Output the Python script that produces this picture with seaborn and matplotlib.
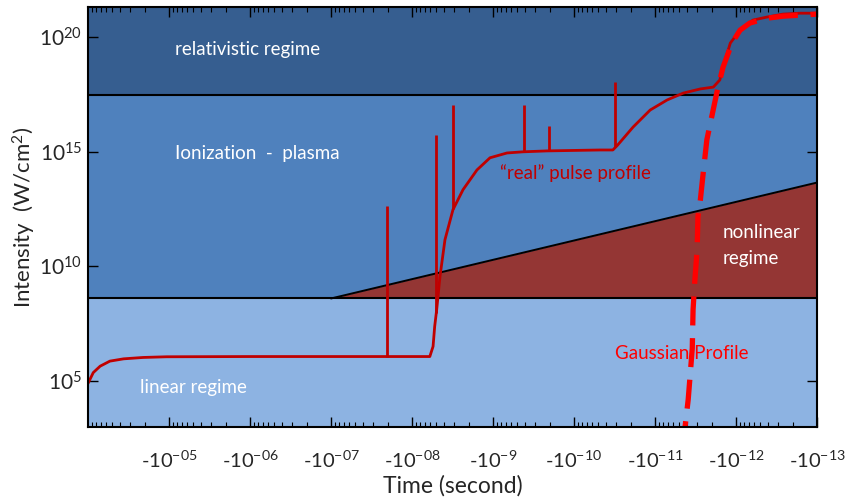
import numpy as np
import pandas as pd
import matplotlib
matplotlib.use("Agg")
import matplotlib.pyplot as plt
import seaborn as sns
from matplotlib.ticker import FixedLocator, FixedFormatter, NullFormatter, NullLocator

# ---------------- data ----------------
# time t = -10**(-exp) seconds ; intensity = 10**log  (W/cm^2)
pulse_time_exp = [4.00, 4.065, 4.15, 4.27, 4.44, 4.68, 4.97, 6.0, 7.0, 8.22,
                  8.26, 8.28, 8.305, 8.346, 8.407, 8.506, 8.63, 8.802, 8.963,
                  9.173, 9.37, 9.667, 10.32, 10.48, 10.54, 10.73, 10.94, 11.15,
                  11.35, 11.56, 11.72, 11.80, 11.84, 11.93, 12.05, 12.21,
                  12.38, 12.58, 12.79, 13.0]
pulse_log_intensity = [4.90, 5.37, 5.65, 5.87, 5.97, 6.03, 6.06, 6.07, 6.07, 6.07,
                       6.51, 7.38, 8.12, 9.57, 11.16, 12.47, 13.34, 14.20, 14.73,
                       14.94, 14.99, 15.03, 15.07, 15.07, 15.29, 16.07, 16.81, 17.25,
                       17.55, 17.73, 17.81, 18.12, 18.68, 19.73, 20.29, 20.73,
                       20.86, 20.99, 21.03, 21.03]

spike_time_exp = [7.69, 8.30, 8.51, 9.38, 9.69, 10.51]
spike_log_peak = [12.64, 15.72, 17.05, 17.05, 16.10, 18.03]

gauss_time_exp = [11.33, 11.37, 11.41, 11.46, 11.47, 11.49, 11.52, 11.53, 11.56,
                  11.59, 11.64, 11.70, 11.77, 11.84, 11.95, 12.05, 12.17, 12.38,
                  12.58, 13.0]
gauss_log_intensity = [2.0, 2.97, 4.20, 6.42, 8.11, 9.29, 10.72, 12.16, 12.90,
                       13.90, 15.51, 16.51, 17.68, 18.68, 19.73, 20.29, 20.60, 20.81,
                       20.90, 20.99]

relativistic_log = 17.48
ionization_log = 8.6
nonlinear_time_exp = [7.0, 13.0]
nonlinear_log_upper = [8.6, 13.65]

x_tick_exp = [5, 6, 7, 8, 9, 10, 11, 12, 13]
x_tick_labels = ["-10$^{-05}$", "-10$^{-06}$", "-10$^{-07}$", "-10$^{-08}$",
                 "-10$^{-9}$", "-10$^{-10}$", "-10$^{-11}$", "-10$^{-12}$",
                 "-10$^{-13}$"]
y_tick_log = [5, 10, 15, 20]
y_tick_labels = ["10$^{5}$", "10$^{10}$", "10$^{15}$", "10$^{20}$"]

region_labels = ["relativistic regime", "Ionization  -  plasma", "linear regime"]

# ---------------- style ----------------
sns.set_theme(style="ticks")
plt.rcParams["font.family"] = ["Lato", "DejaVu Sans"]
plt.rcParams["mathtext.fontset"] = "custom"
plt.rcParams["mathtext.rm"] = "Lato"
plt.rcParams["mathtext.it"] = "Lato:italic"
plt.rcParams["mathtext.bf"] = "Lato:bold"
plt.rcParams["mathtext.default"] = "regular"

c_rel = "#365E90"
c_ion = "#4F81BD"
c_lin = "#8DB3E2"
c_nl = "#943634"
c_real = "#C00000"
c_gauss = "#FF0000"

def to_time(e):
    return -10.0 ** (-np.asarray(e, dtype=float))

def to_int(l):
    return 10.0 ** np.asarray(l, dtype=float)

def fwd(t):
    t = np.asarray(t, dtype=float)
    return -np.log10(np.clip(-t, 1e-300, None))

def inv(u):
    return -10.0 ** (-np.asarray(u, dtype=float))

fig = plt.figure(figsize=(8.52, 4.99), dpi=100)
ax = fig.add_axes([88 / 852, 1 - 427 / 499, 729 / 852, 420 / 499])
ax.set_xscale("function", functions=(fwd, inv))
ax.set_yscale("log")
ax.set_xlim(to_time(4.0), to_time(13.0))
ax.set_ylim(1e3, 10 ** 21.3)

# regime bands
ax.axhspan(1e3, to_int(ionization_log), color=c_lin, lw=0, zorder=0)
ax.axhspan(to_int(ionization_log), to_int(relativistic_log), color=c_ion, lw=0, zorder=0)
ax.axhspan(to_int(relativistic_log), 10 ** 21.3, color=c_rel, lw=0, zorder=0)
nl_t = to_time(nonlinear_time_exp)
ax.fill_between(nl_t, to_int(ionization_log), to_int(nonlinear_log_upper),
                color=c_nl, lw=0, zorder=1)
ax.plot(nl_t, to_int(nonlinear_log_upper), color="black", lw=1.4, zorder=2)
ax.axhline(to_int(ionization_log), color="black", lw=1.5, zorder=2)
ax.axhline(to_int(relativistic_log), color="black", lw=1.5, zorder=2)

# real pulse
pulse_df = pd.DataFrame({"time": to_time(pulse_time_exp),
                         "intensity": to_int(pulse_log_intensity)})
sns.lineplot(data=pulse_df, x="time", y="intensity", ax=ax, color=c_real,
             lw=2.0, sort=False, estimator=None, zorder=4)
spike_base = np.interp(spike_time_exp, pulse_time_exp, pulse_log_intensity)
ax.vlines(to_time(spike_time_exp), to_int(spike_base), to_int(spike_log_peak),
          color=c_real, lw=2.0, zorder=4)

# gaussian profile
gauss_df = pd.DataFrame({"time": to_time(gauss_time_exp),
                         "intensity": to_int(gauss_log_intensity)})
sns.lineplot(data=gauss_df, x="time", y="intensity", ax=ax, color=c_gauss,
             lw=3.8, sort=False, estimator=None, zorder=5,
             linestyle=(0, (5.5, 2.4)))

# texts
fs = 13.5
tk = dict(color="white", fontsize=fs, transform=ax.transAxes)
ax.text(0.2195, 0.898, region_labels[0], ha="center", va="center", **tk)
ax.text(0.119, 0.652, region_labels[1], ha="left", va="center", **tk)
ax.text(0.071, 0.095, region_labels[2], ha="left", va="center", **tk)
ax.text(0.871, 0.462, "nonlinear", ha="left", va="center", **tk)
ax.text(0.871, 0.402, "regime", ha="left", va="center", **tk)
ax.text(0.668, 0.605, "\u201creal\u201d pulse profile", ha="center", va="center",
        color=c_real, fontsize=fs, transform=ax.transAxes)
ax.text(0.815, 0.174, "Gaussian Profile", ha="center", va="center",
        color=c_gauss, fontsize=fs, transform=ax.transAxes)

# ticks
ax.xaxis.set_major_locator(FixedLocator(to_time(x_tick_exp)))
ax.xaxis.set_major_formatter(FixedFormatter(x_tick_labels))
minor = [-k * 10.0 ** (-n) for n in range(5, 14) for k in range(2, 10)]
ax.xaxis.set_minor_locator(FixedLocator(minor))
ax.xaxis.set_minor_formatter(NullFormatter())
ax.yaxis.set_major_locator(FixedLocator(to_int(y_tick_log)))
ax.yaxis.set_major_formatter(FixedFormatter(y_tick_labels))
ax.yaxis.set_minor_locator(NullLocator())

ax.tick_params(axis="both", which="both", direction="in", top=True, right=True,
               color="black")
ax.tick_params(axis="x", which="major", length=7, width=1.0, labelsize=14.5, pad=16)
ax.tick_params(axis="x", which="minor", length=3.5, width=0.8)
ax.tick_params(axis="y", which="major", length=7, width=1.0, labelsize=15, pad=4)
for s in ax.spines.values():
    s.set_color("black")
    s.set_linewidth(1.5)
    s.set_zorder(6)

ax.set_xlabel("Time (second)", fontsize=16.5, labelpad=3)
ax.set_ylabel("Intensity  (W/cm$^{2}$)", fontsize=16, labelpad=1)

fig.savefig("out.png", dpi=100)
